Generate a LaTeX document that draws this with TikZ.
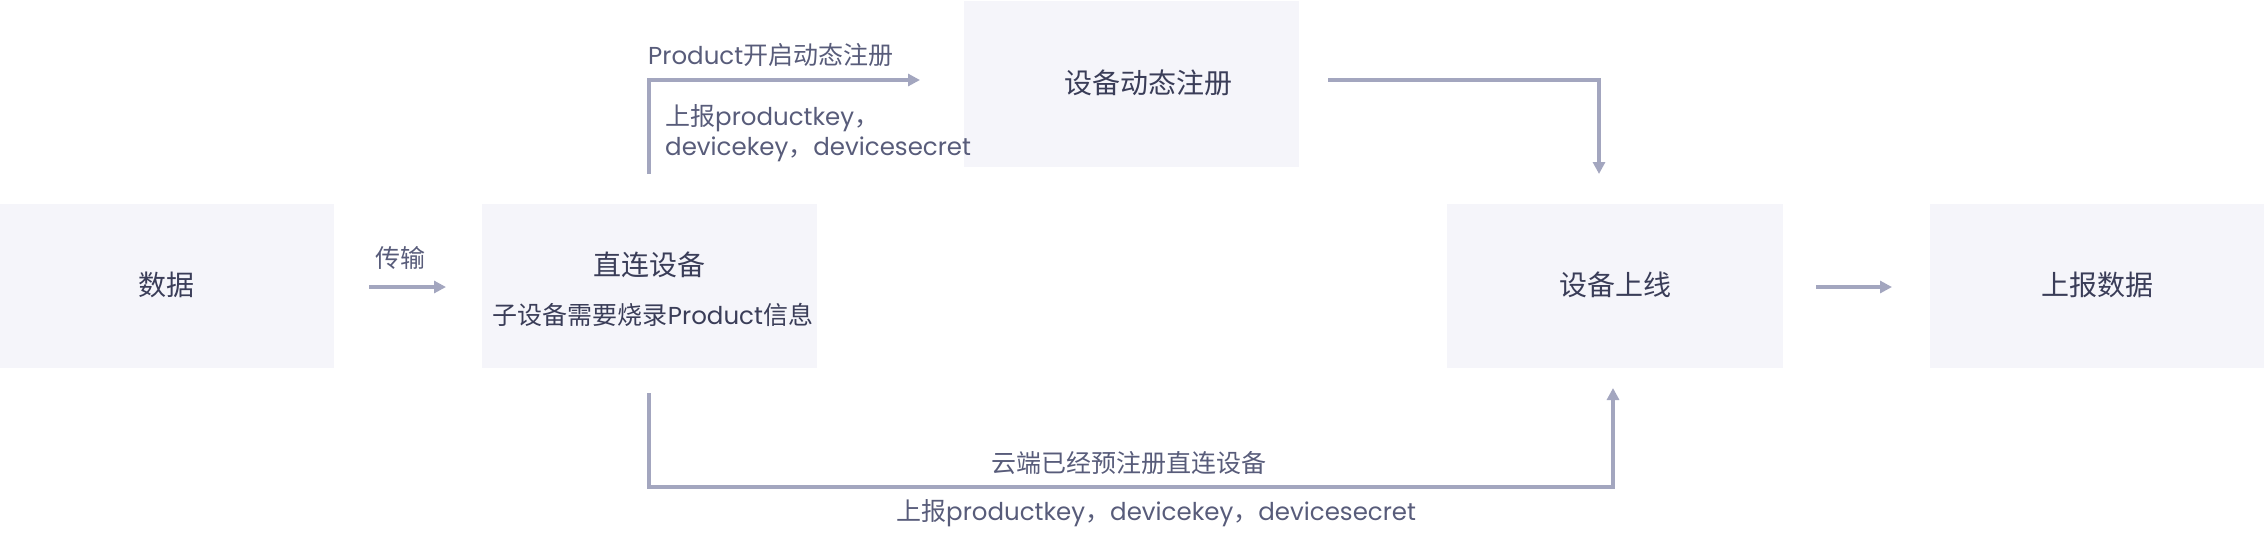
\documentclass[tikz,border=0pt]{standalone}
\usepackage{fontspec}
\setmainfont{Noto Sans CJK SC}
\newfontfamily\latf[Scale=0.98]{Poppins}
\usetikzlibrary{arrows.meta}
\definecolor{boxfill}{RGB}{245,245,250}
\definecolor{linec}{RGB}{163,166,191}
\definecolor{titlec}{RGB}{58,61,88}
\definecolor{labelc}{RGB}{88,92,122}
\tikzset{
  box/.style={fill=boxfill, draw=none, rectangle, inner sep=0pt, minimum height=164pt, minimum width=335pt},
  title/.style={text=titlec, font=\fontsize{28}{34}\selectfont, inner sep=0pt},
  subt/.style={text=titlec, font=\fontsize{25}{30}\selectfont, inner sep=0pt},
  lbl/.style={text=labelc, font=\fontsize{25}{30}\selectfont, inner sep=0pt},
  conn/.style={draw=linec, line width=4pt, -{Triangle[length=12pt,width=12pt]}}
}
\begin{document}
\begin{tikzpicture}[x=1pt,y=-1pt]
\useasboundingbox (0,0) rectangle (2264,539);
% boxes
\node[box, minimum width=334pt] (data) at (167,286) {};
\node[box] (direct) at (649.5,286) {};
\node[box, minimum height=166pt] (dyn) at (1131.5,84) {};
\node[box, minimum width=336pt] (online) at (1615,286) {};
\node[box, minimum width=334pt] (report) at (2097,286) {};
% box texts
\node[title] (tdata) at (166,285) {数据};
\node[title] (tdirect) at (649,265) {直连设备};
\node[subt] (sdirect) at (653,315) {子设备需要烧录{\latf Product}信息};
\node[title] (tdyn) at (1148,83) {设备动态注册};
\node[title] (tonline) at (1615,285) {设备上线};
\node[title] (treport) at (2097,285) {上报数据};
% coordinates
\coordinate (a1) at (369,287);
\coordinate (a2) at (446,287);
\coordinate (u1) at (649,174);
\coordinate (u2) at (920,80);
\coordinate (d1) at (1328,80);
\coordinate (d2) at (1599,174);
\coordinate (b1) at (649,393);
\coordinate (b2) at (1613,388);
\coordinate (r1) at (1816,287);
\coordinate (r2) at (1892,287);
% connectors
\draw[conn] (a1) -- (a2);
\draw[conn] (u1) |- (u2);
\draw[conn] (d1) -| (d2);
\draw[conn] (b1) -- (649,487) -| (b2);
\draw[conn] (r1) -- (r2);
% labels
\node[lbl] (lt) at (400,258) {传输};
\node[lbl, anchor=west] (lp) at (648,55) {{\latf Product}开启动态注册};
\node[lbl, anchor=west, align=left] (lk) at (665,133) {上报{\latf productkey}，\\{\latf devicekey}，{\latf devicesecret}};
\node[lbl] (lc) at (1129,463) {云端已经预注册直连设备};
\node[lbl, anchor=west] (lb) at (896,513) {上报{\latf productkey}，{\latf devicekey}，{\latf devicesecret}};
\end{tikzpicture}
\end{document}
